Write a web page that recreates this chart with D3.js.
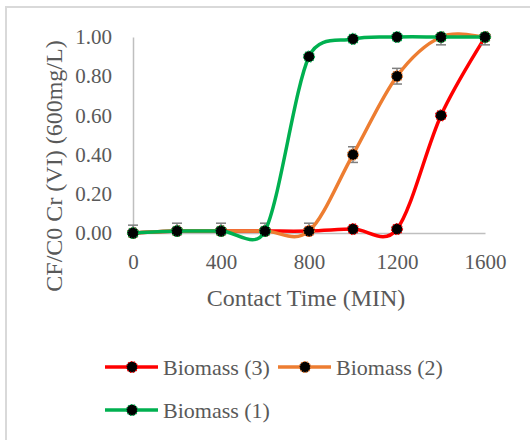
<!DOCTYPE html>
<html>
<head>
<meta charset="utf-8">
<script src="https://cdn.jsdelivr.net/npm/d3@7"></script>
</head>
<body style="margin:0">
<svg id="chart" width="530" height="440"></svg>
<script>
// contact time (min)
const times = [0, 200, 400, 600, 800, 1000, 1200, 1400, 1600];

// CF/C0 values for each biomass
const biomass3 = [0, 0.01, 0.01, 0.01, 0.01, 0.02, 0.02, 0.60, 1.00];
const biomass2 = [0, 0.01, 0.01, 0.01, 0.01, 0.40, 0.80, 1.00, 1.00];
const biomass1 = [0, 0.01, 0.01, 0.01, 0.90, 0.99, 1.00, 1.00, 1.00];

// error bar sizes
const err3 = [0, 0, 0, 0, 0, 0, 0, 0, 0];
const err2 = [0.04, 0.04, 0.04, 0.04, 0.04, 0.04, 0.04, 0.04, 0.04];
const err1 = [0, 0, 0, 0, 0, 0, 0, 0, 0];

const seriesNames = ["Biomass (3)", "Biomass (2)", "Biomass (1)"];
const xTicks = [0, 400, 800, 1200, 1600];
const yTicks = [0, 0.2, 0.4, 0.6, 0.8, 1.0];

const colors = ["#ff0000", "#ed7d31", "#00b050"];
const series = [biomass3, biomass2, biomass1].map((vals, i) => ({
  name: seriesNames[i],
  color: colors[i],
  points: vals.map((v, j) => ({ t: times[j], v: v, e: [err3, err2, err1][i][j] }))
}));

const FONT = "Liberation Serif";
const TEXT = "#595959";

// serif text helper
function serif(sel, size) {
  sel.attr("font-family", FONT)
    .attr("font-size", size)
    .attr("fill", TEXT);
}

const svg = d3.select("#chart");

// chart frame (only left and top edges are in the picture)
svg.append("path")
  .attr("d", "M6,440 V7 H530")
  .attr("fill", "none")
  .attr("stroke", "#d9d9d9")
  .attr("stroke-width", 2);

const x = d3.scaleLinear().domain([0, 1600]).range([133, 485]);
const y = d3.scaleLinear().domain([0, 1]).range([233, 37]);

// axes
const xAxis = svg.append("g")
  .attr("transform", `translate(0,${y(0)})`)
  .call(d3.axisBottom(x).tickValues(xTicks).tickFormat(d3.format("d")).tickSize(0).tickPadding(21));
xAxis.attr("font-family", null).attr("font-size", null);
xAxis.select(".domain").attr("stroke", "#bfbfbf").attr("stroke-width", 1.5);
xAxis.selectAll("text").call(serif, 21);

const yAxis = svg.append("g")
  .attr("transform", `translate(${x(0)},0)`)
  .call(d3.axisLeft(y).tickValues(yTicks).tickFormat(d3.format(".2f")).tickSize(0).tickPadding(21));
yAxis.attr("font-family", null).attr("font-size", null);
yAxis.select(".domain").attr("stroke", "#bfbfbf").attr("stroke-width", 1.5);
yAxis.selectAll("text").call(serif, 21);

// axis titles
svg.append("text")
  .attr("x", 306)
  .attr("y", 306)
  .attr("text-anchor", "middle")
  .call(serif, 24)
  .text("Contact Time (MIN)");

svg.append("text")
  .attr("transform", "translate(62,166) rotate(-90)")
  .attr("text-anchor", "middle")
  .call(serif, 24)
  .text("CF/C0 Cr (VI) (600mg/L)");

// Excel-style smoothed line: bezier arms 1/6 of neighbour chord, capped at half the segment
function smoothPath(pts) {
  const p = d3.path();
  const dist = (a, b) => Math.hypot(b[0] - a[0], b[1] - a[1]);
  p.moveTo(pts[0][0], pts[0][1]);
  for (let i = 0; i < pts.length - 1; i++) {
    const p0 = pts[i - 1] || pts[i], p1 = pts[i], p2 = pts[i + 1], p3 = pts[i + 2] || pts[i + 1];
    const d12 = dist(p1, p2), d02 = dist(p0, p2), d13 = dist(p1, p3);
    const f0 = d02 / 6 < d12 / 2 ? 1 / 6 : (d12 / 2) / d02;
    const f1 = d13 / 6 < d12 / 2 ? 1 / 6 : (d12 / 2) / d13;
    p.bezierCurveTo(
      p1[0] + (p2[0] - p0[0]) * f0, p1[1] + (p2[1] - p0[1]) * f0,
      p2[0] - (p3[0] - p1[0]) * f1, p2[1] - (p3[1] - p1[1]) * f1,
      p2[0], p2[1]);
  }
  return p.toString();
}

const plot = svg.append("g");

series.forEach(s => {
  const g = plot.append("g");

  // error bars
  const eb = g.selectAll(".err")
    .data(s.points.filter(p => p.e > 0))
    .enter().append("g");
  eb.append("line")
    .attr("x1", d => x(d.t)).attr("x2", d => x(d.t))
    .attr("y1", d => y(Math.max(0, d.v - d.e)))
    .attr("y2", d => y(Math.min(1, d.v + d.e)))
    .attr("stroke", "#7f7f7f").attr("stroke-width", 1.5);
  eb.filter(d => d.v + d.e <= 1).append("line")
    .attr("x1", d => x(d.t) - 5).attr("x2", d => x(d.t) + 5)
    .attr("y1", d => y(d.v + d.e)).attr("y2", d => y(d.v + d.e))
    .attr("stroke", "#7f7f7f").attr("stroke-width", 1.5);
  eb.filter(d => d.v - d.e >= 0).append("line")
    .attr("x1", d => x(d.t) - 5).attr("x2", d => x(d.t) + 5)
    .attr("y1", d => y(d.v - d.e)).attr("y2", d => y(d.v - d.e))
    .attr("stroke", "#7f7f7f").attr("stroke-width", 1.5);

  g.append("path")
    .attr("d", smoothPath(s.points.map(d => [x(d.t), y(d.v)])))
    .attr("fill", "none")
    .attr("stroke", s.color)
    .attr("stroke-width", 3.5)
    .attr("stroke-linecap", "round");

  g.selectAll("circle")
    .data(s.points)
    .enter().append("circle")
    .attr("cx", d => x(d.t))
    .attr("cy", d => y(d.v))
    .attr("r", 5.5)
    .attr("fill", "#000")
    .attr("stroke", s.color)
    .attr("stroke-width", 1.2)
    .attr("stroke-dasharray", "1.5,1.5");
});

// legend
const legendPos = [
  { lx: 105, ly: 367 },
  { lx: 278, ly: 367 },
  { lx: 105, ly: 410 }
];

const legend = svg.append("g");
series.forEach((s, i) => {
  const p = legendPos[i];
  const item = legend.append("g").attr("transform", `translate(${p.lx},${p.ly})`);
  item.append("line")
    .attr("x1", 0).attr("x2", 53)
    .attr("stroke", s.color)
    .attr("stroke-width", 3.5);
  item.append("circle")
    .attr("cx", 27).attr("r", 5.5)
    .attr("fill", "#000")
    .attr("stroke", s.color)
    .attr("stroke-width", 1.2)
    .attr("stroke-dasharray", "1.5,1.5");
  item.append("text")
    .attr("x", 58)
    .attr("dy", "0.35em")
    .call(serif, 22)
    .text(s.name);
});
</script>
</body>
</html>
